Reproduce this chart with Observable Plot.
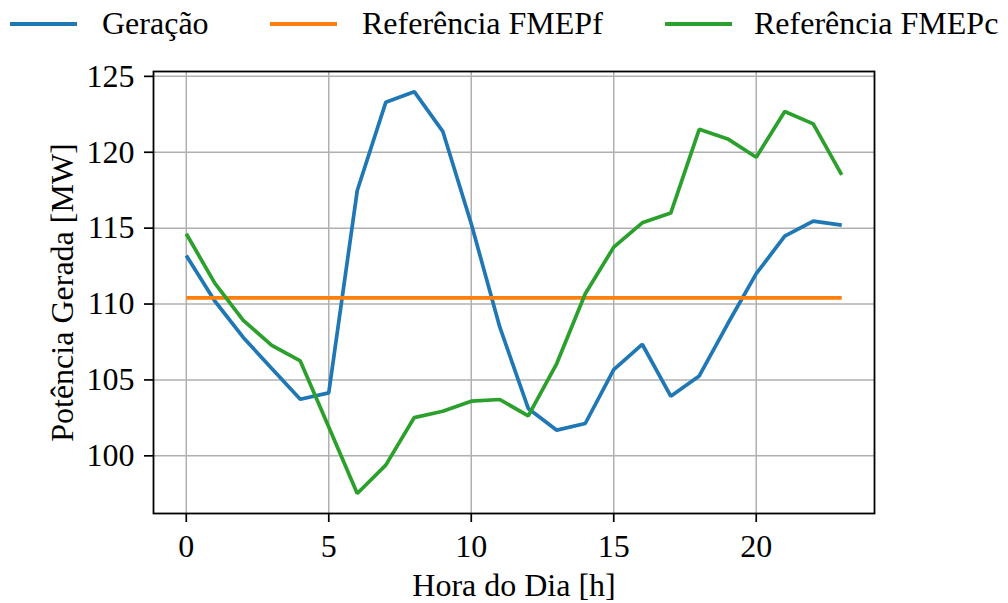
<!DOCTYPE html>
<html>
<head>
<meta charset="utf-8">
<script src="https://cdn.jsdelivr.net/npm/d3@7"></script>
<script src="https://cdn.jsdelivr.net/npm/@observablehq/plot@0.6"></script>
<style>
  html, body { margin: 0; padding: 0; background: #fff; }
  body { width: 1008px; height: 603px; overflow: hidden; font-family: "Liberation Serif", "Times New Roman", serif; }
  #legend { position: relative; width: 1008px; height: 48px; }
  .sw { position: absolute; height: 3.6px; top: 22.3px; }
  .lt { position: absolute; top: 7px; font-size: 32px; line-height: 32px; color: #000; white-space: nowrap; }
  #chart svg { display: block; }
</style>
</head>
<body>
<div id="legend"></div>
<div id="chart"></div>
<script>
const hours = [0,1,2,3,4,5,6,7,8,9,10,11,12,13,14,15,16,17,18,19,20,21,22,23];
const geracao = [113.2,110.2,107.8,105.75,103.73,104.15,117.48,123.29,123.99,121.38,115.29,108.49,103.12,101.69,102.13,105.68,107.35,103.93,105.26,108.7,112.0,114.47,115.46,115.2];
const refFMEPf = [110.4,110.4,110.4,110.4,110.4,110.4,110.4,110.4,110.4,110.4,110.4,110.4,110.4,110.4,110.4,110.4,110.4,110.4,110.4,110.4,110.4,110.4,110.4,110.4];
const refFMEPc = [114.63,111.38,108.93,107.28,106.25,101.9,97.52,99.39,102.52,102.94,103.6,103.71,102.63,106.08,110.68,113.75,115.35,115.99,121.51,120.88,119.67,122.68,121.87,118.51];
const seriesNames = ["Geração", "Referência FMEPf", "Referência FMEPc"];
const seriesColors = ["#1f77b4", "#ff7f0e", "#2ca02c"];
const xTicks = [0,5,10,15,20];
const yTicks = [100,105,110,115,120,125];
const xLabel = "Hora do Dia [h]";
const yLabel = "Potência Gerada [MW]";

const seriesValues = [geracao, refFMEPf, refFMEPc];
const data = seriesNames.flatMap((name, s) => hours.map((h, i) => ({series: name, hour: h, value: seriesValues[s][i]})));

// legend
const legendPos = [{sw: 10, tx: 102}, {sw: 270, tx: 362}, {sw: 665, tx: 754}];
const legend = document.getElementById("legend");
seriesNames.forEach((name, i) => {
  const sw = document.createElement("div");
  sw.className = "sw";
  sw.style.left = legendPos[i].sw + "px";
  sw.style.width = "67px";
  sw.style.background = seriesColors[i];
  legend.appendChild(sw);
  const t = document.createElement("div");
  t.className = "lt";
  t.style.left = legendPos[i].tx + "px";
  t.textContent = name;
  legend.appendChild(t);
});

const font = '"Liberation Serif", "Times New Roman", serif';
const chart = Plot.plot({
  width: 1008,
  height: 555,
  marginTop: 23,
  marginBottom: 90,
  marginLeft: 153,
  marginRight: 134,
  style: {fontFamily: font, fontSize: "32px", color: "#000", background: "#fff"},
  x: {domain: [-1.15, 24.15]},
  y: {domain: [96.2, 125.32]},
  color: {domain: seriesNames, range: seriesColors},
  marks: [
    Plot.gridX(xTicks, {stroke: "#b0b0b0", strokeOpacity: 1, strokeWidth: 1.5}),
    Plot.gridY(yTicks, {stroke: "#b0b0b0", strokeOpacity: 1, strokeWidth: 1.5}),
    Plot.line(data, {x: "hour", y: "value", z: "series", stroke: "series", strokeWidth: 3.7, strokeLinejoin: "miter", strokeLinecap: "butt"}),
    Plot.axisX(xTicks, {tickSize: 9, strokeWidth: 1.7, text: null, label: null}),
    Plot.axisY(yTicks, {tickSize: 9, strokeWidth: 1.7, text: null, label: null}),
    Plot.text(xTicks, {x: d => d, text: d => String(d), frameAnchor: "bottom", lineAnchor: "top", textAnchor: "middle", dy: 21, fontSize: 32, fontFamily: font, fill: "#000"}),
    Plot.text(yTicks, {y: d => d, text: d => String(d), frameAnchor: "left", lineAnchor: "middle", textAnchor: "end", dx: -19, fontSize: 32, fontFamily: font, fill: "#000"}),
    Plot.frame({stroke: "#000", strokeWidth: 1.8}),
    Plot.text([xLabel], {frameAnchor: "bottom", lineAnchor: "bottom", textAnchor: "middle", dy: 82, fontSize: 32, fontFamily: font, fill: "#000"}),
    Plot.text([yLabel], {frameAnchor: "left", lineAnchor: "bottom", textAnchor: "middle", rotate: -90, dx: -81, fontSize: 32, fontFamily: font, fill: "#000"})
  ]
});
document.getElementById("chart").appendChild(chart);
</script>
</body>
</html>
